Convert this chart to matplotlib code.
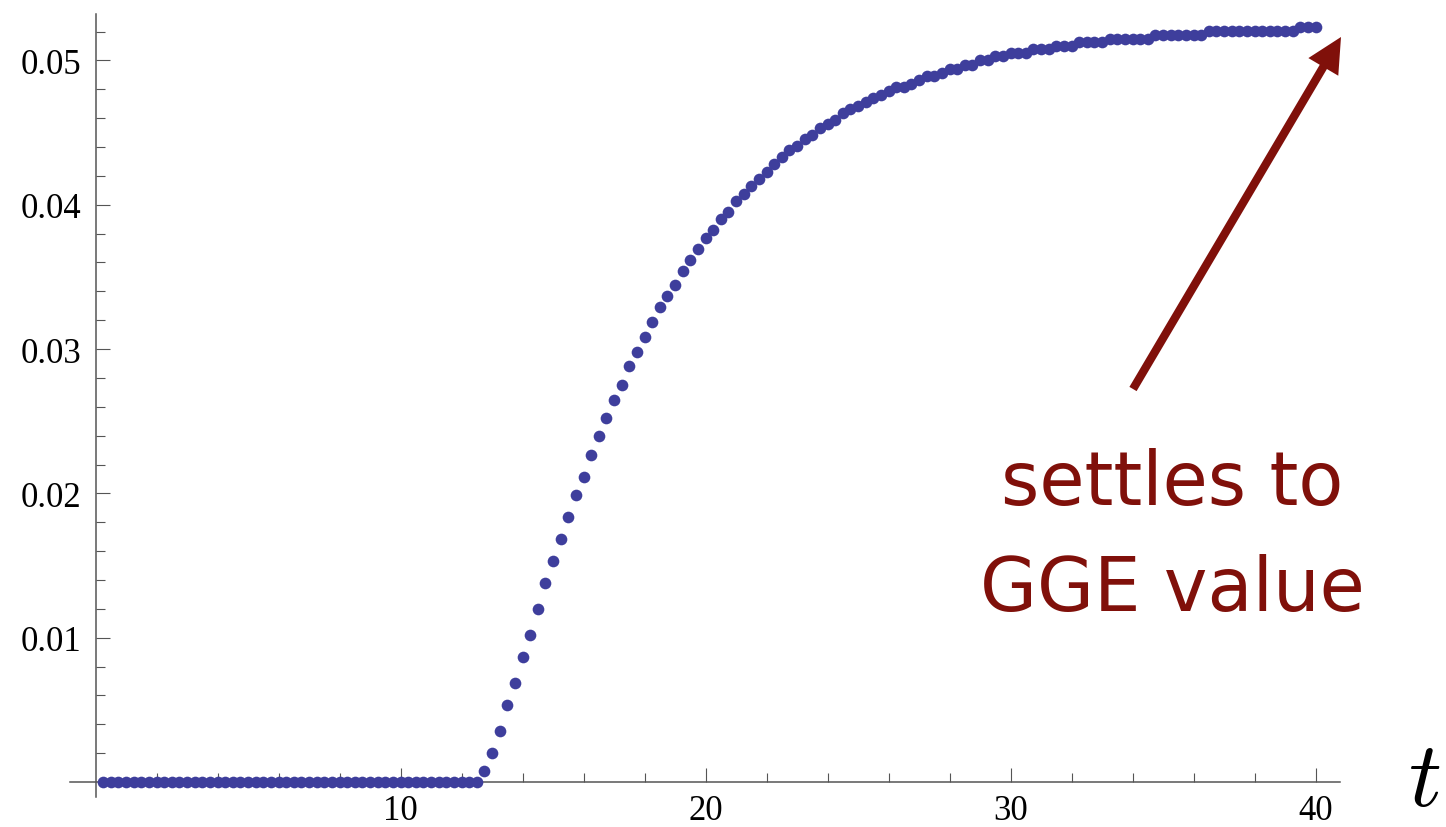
import numpy as np
import matplotlib
matplotlib.use("Agg")
import matplotlib.pyplot as plt
from matplotlib.ticker import FixedLocator

plt.rcParams['mathtext.fontset'] = 'cm'

# sampled times, step 0.25 from 0.25 to 40
dt = 0.25
n_points = 160

# values
flat_part = [0.0] * 50  # t = 0.25 .. 12.5
rise_part = [0.00076, 0.00203, 0.00356, 0.00536, 0.00688, 0.00866, 0.01019,
             0.01199, 0.01377, 0.01529, 0.01682, 0.01834, 0.01987, 0.02114,
             0.02266, 0.02396, 0.02522, 0.02649, 0.02751, 0.02881]
bend_part = [0.02983, 0.03086, 0.03188, 0.03290, 0.03366, 0.03442, 0.03544,
             0.03620, 0.03696, 0.03772, 0.03823, 0.03899, 0.03950, 0.04026,
             0.04077, 0.04128, 0.04179, 0.04230, 0.04281, 0.04331, 0.04382,
             0.04407, 0.04458, 0.04484, 0.04534, 0.04560, 0.04585, 0.04636,
             0.04661, 0.04687, 0.04712, 0.04738, 0.04763, 0.04789, 0.04814,
             0.04814, 0.04839, 0.04865, 0.04890, 0.04890, 0.04915]
tail_part = ([0.04942, 0.04943, 0.04972, 0.04972, 0.05000, 0.05000, 0.05028,
              0.05028, 0.05055, 0.05055, 0.05055, 0.05080, 0.05078, 0.05082,
              0.05100, 0.05100, 0.05100, 0.05127, 0.05127, 0.05127, 0.05127]
             + [0.05150] * 6 + [0.05178] * 7 + [0.05202] * 12 + [0.05230] * 3)

values = np.array(flat_part + rise_part + bend_part + tail_part)
times = dt * np.arange(1, n_points + 1)

x_major = [10, 20, 30, 40]
x_minor = list(range(2, 40, 2))
y_major = [0.01, 0.02, 0.03, 0.04, 0.05]
y_minor = [0.002 * k for k in range(1, 27)]

W, H = 1446, 828
fig = plt.figure(figsize=(W / 100, H / 100), dpi=100)
ax = fig.add_axes([70 / W, 1 - 798 / H, 1270 / W, 783 / H])

ax.plot(times, values, 'o', ms=8.4, mec='none', color='#3e3e9c', zorder=3, clip_on=False)

ax.set_xlim(-0.836, 40.80)
ax.set_ylim(-0.00104, 0.05322)

for s in ['top', 'right']:
    ax.spines[s].set_visible(False)
ax.spines['left'].set_position(('data', 0))
ax.spines['bottom'].set_position(('data', 0))
for s in ['left', 'bottom']:
    ax.spines[s].set_color('#555555')
    ax.spines[s].set_linewidth(1.1)

ax.xaxis.set_major_locator(FixedLocator(x_major))
ax.xaxis.set_minor_locator(FixedLocator(x_minor))
ax.yaxis.set_major_locator(FixedLocator(y_major))
ax.yaxis.set_minor_locator(FixedLocator(y_minor))
ax.set_xticklabels([str(v) for v in x_major])
ax.set_yticklabels(['%.2f' % v for v in y_major])

ax.tick_params(which='both', direction='in', color='#555555', width=0.8)
ax.tick_params(which='major', length=10)
ax.tick_params(which='minor', length=6.5)
ax.tick_params(axis='x', which='major', pad=9)
ax.tick_params(axis='y', which='major', pad=10)
for lab in ax.get_xticklabels() + ax.get_yticklabels():
    lab.set_fontfamily('Liberation Serif')
    lab.set_fontsize(25)

# axis label t
fig.text(1424 / W, 1 - 806 / H, '$t$', fontsize=66, ha='center', va='baseline')

# annotation
red = '#80100a'
ax.annotate('', xy=(1341 / W, 1 - 38 / H), xycoords='figure fraction',
            xytext=(1133 / W, 1 - 390 / H), textcoords='figure fraction',
            arrowprops=dict(arrowstyle='simple,head_length=0.5,head_width=0.5,tail_width=0.12',
                            mutation_scale=50, fc=red, ec=red, lw=0,
                            shrinkA=0, shrinkB=0))
fig.text(1172 / W, 1 - 505 / H, 'settles to', fontsize=53, color=red,
         family='DejaVu Sans', ha='center', va='baseline')
fig.text(1172 / W, 1 - 611 / H, 'GGE value', fontsize=53, color=red,
         family='DejaVu Sans', ha='center', va='baseline')

fig.savefig('out.png', dpi=100)
